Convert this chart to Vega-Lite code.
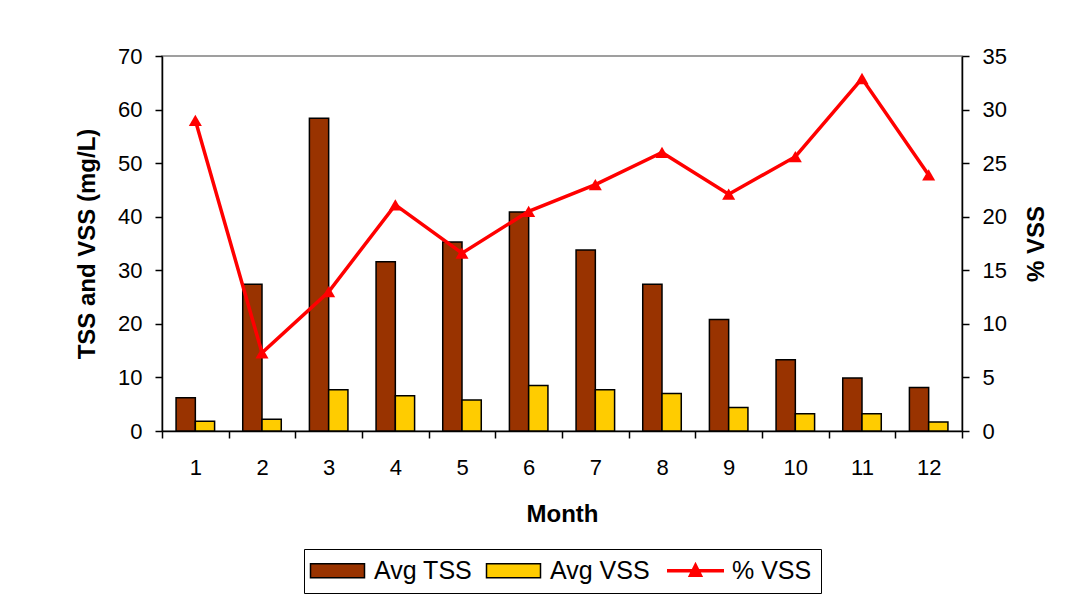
{
  "$schema": "https://vega.github.io/schema/vega-lite/v6.json",
  "width": 800,
  "height": 375,
  "autosize": {"type": "none"},
  "padding": {"left": 162, "top": 56, "right": 105, "bottom": 171},
  "background": "white",
  "config": {
    "font": "Liberation Sans",
    "view": {"stroke": "#808080", "strokeWidth": 1.5},
    "axis": {
      "labelFont": "Liberation Sans", "labelFontSize": 22, "labelColor": "black",
      "titleFont": "Liberation Sans", "titleFontSize": 24, "titleFontWeight": "bold", "titleColor": "black",
      "domainColor": "black", "domainWidth": 1.5, "tickColor": "black", "tickWidth": 1.5, "tickSize": 7, "grid": false
    }
  },
  "data": {
    "values": [
      {"month": 1, "series": "Avg TSS", "value": 6.2},
      {"month": 2, "series": "Avg TSS", "value": 27.4},
      {"month": 3, "series": "Avg TSS", "value": 58.4},
      {"month": 4, "series": "Avg TSS", "value": 31.6},
      {"month": 5, "series": "Avg TSS", "value": 35.3},
      {"month": 6, "series": "Avg TSS", "value": 40.9},
      {"month": 7, "series": "Avg TSS", "value": 33.8},
      {"month": 8, "series": "Avg TSS", "value": 27.4},
      {"month": 9, "series": "Avg TSS", "value": 20.8},
      {"month": 10, "series": "Avg TSS", "value": 13.3},
      {"month": 11, "series": "Avg TSS", "value": 9.9},
      {"month": 12, "series": "Avg TSS", "value": 8.1},
      {"month": 1, "series": "Avg VSS", "value": 1.8},
      {"month": 2, "series": "Avg VSS", "value": 2.2},
      {"month": 3, "series": "Avg VSS", "value": 7.7},
      {"month": 4, "series": "Avg VSS", "value": 6.6},
      {"month": 5, "series": "Avg VSS", "value": 5.8},
      {"month": 6, "series": "Avg VSS", "value": 8.5},
      {"month": 7, "series": "Avg VSS", "value": 7.7},
      {"month": 8, "series": "Avg VSS", "value": 7.0},
      {"month": 9, "series": "Avg VSS", "value": 4.4},
      {"month": 10, "series": "Avg VSS", "value": 3.2},
      {"month": 11, "series": "Avg VSS", "value": 3.2},
      {"month": 12, "series": "Avg VSS", "value": 1.7},
      {"month": 1, "series": "% VSS", "value": 29.0},
      {"month": 2, "series": "% VSS", "value": 7.3},
      {"month": 3, "series": "% VSS", "value": 13.0},
      {"month": 4, "series": "% VSS", "value": 21.1},
      {"month": 5, "series": "% VSS", "value": 16.6},
      {"month": 6, "series": "% VSS", "value": 20.5},
      {"month": 7, "series": "% VSS", "value": 23.0},
      {"month": 8, "series": "% VSS", "value": 26.0},
      {"month": 9, "series": "% VSS", "value": 22.1},
      {"month": 10, "series": "% VSS", "value": 25.6},
      {"month": 11, "series": "% VSS", "value": 32.9},
      {"month": 12, "series": "% VSS", "value": 23.9}
    ]
  },
  "layer": [
    {
      "transform": [{"filter": "datum.series !== '% VSS'"}],
      "mark": {"type": "bar", "stroke": "black", "strokeWidth": 1.5, "opacity": 1},
      "encoding": {
        "x": {
          "field": "month", "type": "ordinal",
          "scale": {"paddingInner": 0, "paddingOuter": 0},
          "axis": {"title": "Month", "labelAngle": 0, "tickBand": "extent", "labelPadding": 19, "titlePadding": 24}
        },
        "xOffset": {
          "field": "series", "type": "nominal",
          "scale": {"domain": ["Avg TSS", "Avg VSS"], "paddingInner": 0, "paddingOuter": 0.73}
        },
        "y": {
          "field": "value", "type": "quantitative",
          "scale": {"domain": [0, 70]},
          "axis": {"title": "TSS and VSS (mg/L)", "values": [0, 10, 20, 30, 40, 50, 60, 70], "labelPadding": 13, "titlePadding": 18}
        },
        "color": {
          "field": "series", "type": "nominal",
          "scale": {"domain": ["Avg TSS", "Avg VSS", "% VSS"], "range": ["#993300", "#FFCC00", "#FF0000"]},
          "legend": {
            "title": null,
            "orient": "none",
            "legendX": 142,
            "legendY": 493,
            "direction": "horizontal",
            "padding": 9,
            "strokeColor": "black",
            "fillColor": "white",
            "labelFont": "Liberation Sans",
            "labelFontSize": 25,
            "labelColor": "black",
            "labelOffset": 24,
            "symbolOffset": 12,
            "columnPadding": 10,
            "symbolSize": 900,
            "symbolType": "M-1.8,-0.47H1.8V0.47H-1.8Z",
            "symbolStrokeWidth": 1.5,
            "symbolStrokeColor": "black",
            "symbolOpacity": 1,
            "encode": {
              "symbols": {
                "update": {
                  "shape": {"signal": "datum.value === '% VSS' ? 'M-1.9,0H1.9M-0.32,0.3L0,-0.34L0.32,0.3Z' : 'M-1.8,-0.47H1.8V0.47H-1.8Z'"},
                  "stroke": {"signal": "datum.value === '% VSS' ? '#FF0000' : 'black'"},
                  "strokeWidth": {"signal": "datum.value === '% VSS' ? 3.5 : 1.5"}
                }
              }
            }
          }
        }
      }
    },
    {
      "transform": [{"filter": "datum.series === '% VSS'"}],
      "mark": {"type": "line", "color": "#FF0000", "strokeWidth": 3.5, "point": {"shape": "triangle-up", "filled": true, "size": 170, "color": "#FF0000"}},
      "encoding": {
        "x": {"field": "month", "type": "ordinal"},
        "y": {
          "field": "value", "type": "quantitative",
          "scale": {"domain": [0, 35]},
          "axis": {"orient": "right", "title": "% VSS", "values": [0, 5, 10, 15, 20, 25, 30, 35], "labelPadding": 13, "titlePadding": 18, "titleAngle": 270, "titleBaseline": "top"}
        }
      }
    }
  ],
  "resolve": {"scale": {"y": "independent"}}
}
